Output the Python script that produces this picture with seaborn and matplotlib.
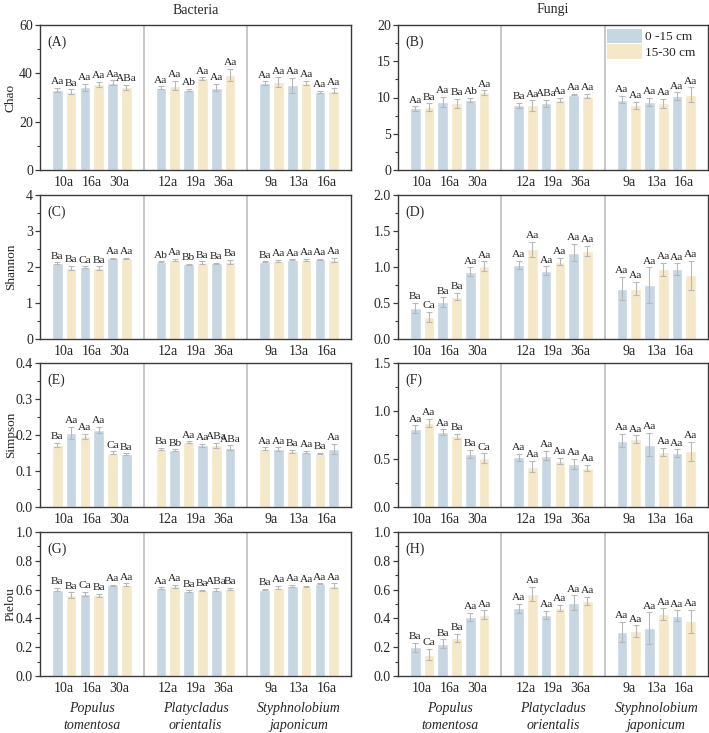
import numpy as np
import pandas as pd
import matplotlib
matplotlib.use("Agg")
import matplotlib.pyplot as plt
from matplotlib.patches import Patch
from matplotlib.ticker import MultipleLocator, AutoMinorLocator
import seaborn as sns

# ---------------- data ----------------
species = ["Populus\ntomentosa", "Platycladus\norientalis", "Styphnolobium\njaponicum"]
ages = [["10a", "16a", "30a"], ["12a", "19a", "36a"], ["9a", "13a", "16a"]]
depths = ["0 -15 cm", "15-30 cm"]

# order: species -> age -> depth (0-15, 15-30)
chao_bac = [33.1, 32.4, 34.2, 35.4, 36.1, 34.3, 34.1, 34.9, 33.1, 37.9, 34.1, 39.3, 35.9, 36.4, 35.0, 36.0, 32.4, 32.8]
chao_bac_err = [1.0, 1.0, 1.5, 1.0, 1.0, 1.0, 0.5, 2.0, 0.5, 0.5, 1.5, 2.5, 0.8, 2.0, 3.0, 1.0, 0.4, 1.0]
chao_bac_lab = ["Aa", "Ba", "Aa", "Aa", "Aa", "ABa", "Aa", "Aa", "Ab", "Aa", "Aa", "Aa", "Aa", "Aa", "Aa", "Aa", "Aa", "Aa"]

chao_fun = [8.5, 8.7, 9.4, 9.2, 9.7, 10.7, 8.9, 8.9, 9.2, 9.7, 10.4, 10.2, 9.7, 8.9, 9.4, 9.2, 10.2, 10.4]
chao_fun_err = [0.3, 0.5, 0.7, 0.6, 0.3, 0.3, 0.4, 0.7, 0.5, 0.3, 0.1, 0.3, 0.5, 0.5, 0.6, 0.6, 0.5, 1.0]
chao_fun_lab = ["Aa", "Ba", "Aa", "Ba", "Ab", "Aa", "Ba", "Aa", "ABa", "Aa", "Aa", "Aa", "Aa", "Aa", "Aa", "Aa", "Aa", "Aa"]

shan_bac = [2.10, 1.97, 2.00, 1.97, 2.24, 2.24, 2.15, 2.20, 2.07, 2.12, 2.10, 2.14, 2.15, 2.17, 2.20, 2.20, 2.21, 2.19]
shan_bac_err = [0.03, 0.06, 0.02, 0.05, 0.01, 0.02, 0.01, 0.02, 0.01, 0.04, 0.01, 0.05, 0.01, 0.03, 0.01, 0.03, 0.01, 0.06]
shan_bac_lab = ["Ba", "Ba", "Ca", "Ba", "Aa", "Aa", "Ab", "Aa", "Bb", "Ba", "Ba", "Ba", "Ba", "Aa", "Aa", "Aa", "Aa", "Aa"]

shan_fun = [0.43, 0.31, 0.51, 0.59, 0.935, 1.01, 1.03, 1.245, 0.95, 1.075, 1.20, 1.225, 0.70, 0.70, 0.745, 0.97, 0.97, 0.885]
shan_fun_err = [0.07, 0.07, 0.07, 0.05, 0.06, 0.07, 0.06, 0.10, 0.06, 0.05, 0.12, 0.07, 0.16, 0.09, 0.25, 0.09, 0.08, 0.20]
shan_fun_lab = ["Ba", "Ca", "Ba", "Ba", "Aa", "Aa", "Aa", "Aa", "Aa", "Aa", "Aa", "Aa", "Aa", "Aa", "Aa", "Aa", "Aa", "Aa"]

simp_bac = [0.173, 0.205, 0.196, 0.214, 0.151, 0.147, 0.162, 0.158, 0.180, 0.171, 0.171, 0.165, 0.162, 0.161, 0.155, 0.153, 0.148, 0.162]
simp_bac_err = [0.006, 0.017, 0.008, 0.008, 0.004, 0.002, 0.003, 0.002, 0.002, 0.004, 0.007, 0.006, 0.004, 0.005, 0.004, 0.003, 0.002, 0.014]
simp_bac_lab = ["Ba", "Aa", "Aa", "Aa", "Ca", "Ba", "Ba", "Bb", "Aa", "Aa", "ABa", "ABa", "Aa", "Aa", "Ba", "Aa", "Ba", "Aa"]

simp_fun = [0.81, 0.875, 0.78, 0.735, 0.555, 0.51, 0.517, 0.42, 0.535, 0.48, 0.45, 0.41, 0.69, 0.705, 0.65, 0.575, 0.56, 0.58]
simp_fun_err = [0.04, 0.04, 0.03, 0.03, 0.04, 0.05, 0.04, 0.06, 0.05, 0.03, 0.05, 0.03, 0.07, 0.04, 0.12, 0.04, 0.04, 0.10]
simp_fun_lab = ["Aa", "Aa", "Aa", "Ba", "Ba", "Ca", "Aa", "Aa", "Aa", "Aa", "Aa", "Aa", "Aa", "Aa", "Aa", "Aa", "Aa", "Aa"]

piel_bac = [0.60, 0.56, 0.57, 0.56, 0.63, 0.635, 0.61, 0.622, 0.59, 0.595, 0.60, 0.605, 0.60, 0.613, 0.627, 0.62, 0.64, 0.628]
piel_bac_err = [0.01, 0.02, 0.015, 0.01, 0.005, 0.008, 0.005, 0.01, 0.004, 0.005, 0.01, 0.008, 0.005, 0.012, 0.007, 0.005, 0.004, 0.015]
piel_bac_lab = ["Ba", "Ba", "Ca", "Ba", "Aa", "Aa", "Aa", "Aa", "Ba", "Ba", "ABa", "Ba", "Ba", "Aa", "Aa", "Aa", "Aa", "Aa"]

piel_fun = [0.20, 0.148, 0.225, 0.265, 0.41, 0.425, 0.47, 0.57, 0.423, 0.472, 0.51, 0.52, 0.308, 0.312, 0.333, 0.43, 0.42, 0.38]
piel_fun_err = [0.03, 0.04, 0.03, 0.03, 0.03, 0.03, 0.03, 0.05, 0.03, 0.02, 0.05, 0.03, 0.07, 0.04, 0.11, 0.04, 0.035, 0.08]
piel_fun_lab = ["Ba", "Ca", "Ba", "Ba", "Aa", "Aa", "Aa", "Aa", "Aa", "Aa", "Aa", "Aa", "Aa", "Aa", "Aa", "Aa", "Aa", "Aa"]

# ---------------- styles ----------------
BLUE = "#c6d6e3"
YELLOW = "#f5e8c8"
ERR = "#b8b8b8"
SPINE = "#3a3a3a"

sns.set_theme(style="white")
plt.rcParams["font.family"] = ["Liberation Serif", "DejaVu Serif"]
plt.rcParams["mathtext.fontset"] = "stix"

fig = plt.figure(figsize=(7.09, 7.33), dpi=100)

W, H = 709.0, 733.0
col_x = [40, 398]
col_w = [311, 310]
rows = [(25, 170), (195, 339), (363, 507), (532, 676)]

panels = [
    # (row, col, letter, ylabel, vals, errs, labs, ymax, major, swap)
    (0, 0, "(A)", "Chao", chao_bac, chao_bac_err, chao_bac_lab, 60, 20, False),
    (0, 1, "(B)", None, chao_fun, chao_fun_err, chao_fun_lab, 20, 5, False),
    (1, 0, "(C)", "Shannon", shan_bac, shan_bac_err, shan_bac_lab, 4, 1, False),
    (1, 1, "(D)", None, shan_fun, shan_fun_err, shan_fun_lab, 2.0, 0.5, False),
    (2, 0, "(E)", "Simpson", simp_bac, simp_bac_err, simp_bac_lab, 0.4, 0.1, True),
    (2, 1, "(F)", None, simp_fun, simp_fun_err, simp_fun_lab, 1.5, 0.5, False),
    (3, 0, "(G)", "Pielou", piel_bac, piel_bac_err, piel_bac_lab, 1.0, 0.2, False),
    (3, 1, "(H)", None, piel_fun, piel_fun_err, piel_fun_lab, 1.0, 0.2, False),
]

GROUP_W = 7.5
# build x positions from indices
xpos, depth_col, tick_pos, tick_lab = [], [], [], []
for g in range(3):
    for p in range(3):
        for d in range(2):
            xpos.append(g * GROUP_W + 1.25 + 2 * p + d)
            depth_col.append(depths[d])
        tick_pos.append(g * GROUP_W + 1.25 + 2 * p + 0.5)
        tick_lab.append(ages[g][p])

fmt = {20: "{:.0f}", 5: "{:.0f}", 1: "{:.0f}", 0.5: "{:.1f}", 0.1: "{:.1f}", 0.2: "{:.1f}"}

for (r, c, letter, ylab, vals, errs, labs, ymax, major, swap) in panels:
    top, bot = rows[r]
    ax = fig.add_axes([col_x[c] / W, 1 - bot / H, col_w[c] / W, (bot - top) / H])
    df = pd.DataFrame({"x": xpos, "val": vals, "depth": depth_col})
    pal = {depths[0]: YELLOW, depths[1]: BLUE} if swap else {depths[0]: BLUE, depths[1]: YELLOW}
    sns.barplot(data=df, x="x", y="val", hue="depth", palette=pal, native_scale=True,
                dodge=False, width=0.77, errorbar=None, saturation=1, legend=False, ax=ax)
    ax.errorbar(xpos, vals, yerr=errs, fmt="none", ecolor=ERR, elinewidth=0.8,
                capsize=2.2, capthick=0.8, zorder=3)
    for x, v, e, t in zip(xpos, vals, errs, labs):
        ax.annotate(t, (x, v + e), xytext=(0, 1.2), textcoords="offset points",
                    ha="center", va="bottom", fontsize=8.2, color="#222222")
    ax.set_xlim(0, 3 * GROUP_W)
    ax.set_ylim(0, ymax)
    for g in (1, 2):
        ax.axvline(g * GROUP_W, color="#c4c4c4", lw=1.3, zorder=0)
    ax.set_xticks(tick_pos)
    ax.set_xticklabels(tick_lab)
    ax.yaxis.set_major_locator(MultipleLocator(major))
    ax.yaxis.set_minor_locator(AutoMinorLocator(2))
    ticks = np.arange(0, ymax + major / 2, major)
    ax.set_yticks(ticks)
    ax.set_yticklabels([fmt[major].format(t) for t in ticks])
    ax.tick_params(axis="y", which="major", direction="out", length=3.5, width=0.9,
                   color=SPINE, labelsize=10, pad=1.5, left=True)
    ax.tick_params(axis="y", which="minor", direction="out", length=2, width=0.8,
                   color=SPINE, left=True)
    ax.tick_params(axis="x", which="both", length=0, labelsize=10, pad=4)
    for s in ax.spines.values():
        s.set_color(SPINE)
        s.set_linewidth(1.0)
    ax.set_xlabel("")
    if ylab:
        ax.set_ylabel(ylab, fontsize=9.5, va="center")
        ax.yaxis.set_label_coords(-29 / col_w[c], 0.5)
    else:
        ax.set_ylabel("")
    ax.text(0.025, 0.93, letter, transform=ax.transAxes, ha="left", va="top", fontsize=10)
    if letter == "(B)":
        handles = [Patch(facecolor=BLUE, edgecolor="none"), Patch(facecolor=YELLOW, edgecolor="none")]
        ax.legend(handles, depths, loc="upper right", frameon=False, fontsize=9.5,
                  handlelength=2.6, handleheight=1.3, handletextpad=0.25,
                  labelspacing=0.1, borderaxespad=0.2, bbox_to_anchor=(0.985, 1.03))
    if r == 3:
        for g in range(3):
            gx = g * GROUP_W + GROUP_W / 2
            first, second = species[g].split("\n")
            ax.text(gx, -0.228, first, transform=ax.get_xaxis_transform(), ha="center",
                    va="center", fontsize=10, style="italic")
            ax.text(gx, -0.345, second, transform=ax.get_xaxis_transform(), ha="center",
                    va="center", fontsize=10, style="italic")

fig.text((40 + 311 / 2) / W, 1 - 10 / H, "Bacteria", ha="center", va="center", fontsize=10)
fig.text((398 + 310 / 2) / W, 1 - 10 / H, "Fungi", ha="center", va="center", fontsize=10)

fig.savefig("out.png", dpi=100, facecolor="white")
